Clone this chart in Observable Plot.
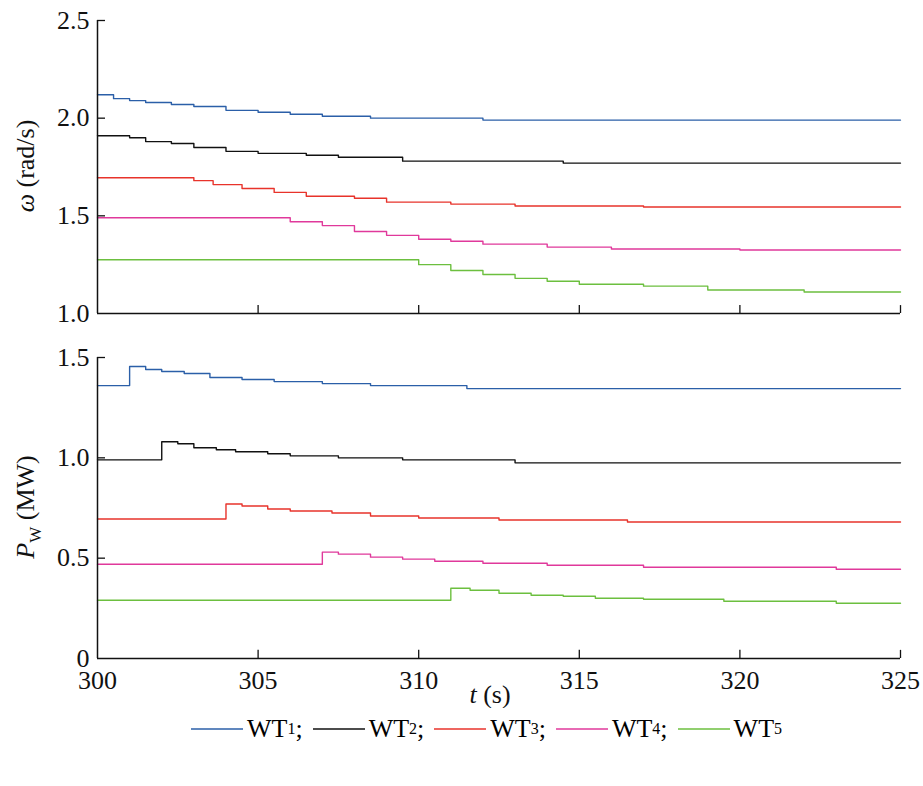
<!DOCTYPE html>
<html><head><meta charset="utf-8">
<script src="https://cdn.jsdelivr.net/npm/d3@7"></script>
<script src="https://cdn.jsdelivr.net/npm/@observablehq/plot@0.6"></script>
<style>
body{margin:0;background:#fff;font-family:"Liberation Serif",serif;}
#wrap{width:923px;position:relative}
svg{display:block}
#legend{display:flex;justify-content:center;align-items:center;font-size:26px;margin-top:6px;padding-left:60px;white-space:nowrap}
#legend span.it{display:inline-flex;align-items:center;margin-right:10px}
#legend sub{font-size:16px;vertical-align:-5px}
</style></head><body><div id="wrap"></div>
<script>
const names = ["WT1","WT2","WT3","WT4","WT5"];
const colors = ["#2b5fa8","#111111","#e8332b","#e0399b","#6cbf3f"];
const xTicks = [300,305,310,315,320,325];
const omegaTicks = [1.0,1.5,2.0,2.5];
const powerTicks = [0,0.5,1.0,1.5];
// omega (rad/s) step breakpoints [t, value]
const omega1 = [[300,2.12],[300.5,2.10],[301,2.09],[301.5,2.08],[302.3,2.07],[303,2.06],[304,2.04],[305,2.03],[306,2.02],[307,2.01],[308.5,2.00],[312,1.99],[325,1.99]];
const omega2 = [[300,1.91],[301,1.90],[301.5,1.88],[302.3,1.87],[303,1.85],[304,1.83],[305,1.82],[306.5,1.81],[307.5,1.80],[309.5,1.78],[314.5,1.77],[325,1.77]];
const omega3 = [[300,1.695],[303,1.68],[303.6,1.66],[304.5,1.64],[305.5,1.62],[306.5,1.60],[308,1.59],[309,1.57],[311,1.56],[313,1.55],[317,1.545],[325,1.545]];
const omega4 = [[300,1.49],[306,1.47],[307,1.45],[308,1.42],[309,1.40],[310,1.38],[311,1.37],[312,1.355],[314,1.34],[316,1.33],[320,1.325],[325,1.325]];
const omega5 = [[300,1.275],[310,1.25],[311,1.22],[312,1.20],[313,1.18],[314,1.165],[315,1.15],[317,1.14],[319,1.12],[322,1.11],[325,1.11]];
// power (MW)
const power1 = [[300,1.36],[301,1.455],[301.5,1.44],[302,1.43],[302.7,1.42],[303.5,1.40],[304.5,1.39],[305.5,1.38],[307,1.37],[308.5,1.36],[311.5,1.345],[325,1.345]];
const power2 = [[300,0.99],[302,1.08],[302.5,1.07],[303,1.05],[303.7,1.04],[304.3,1.03],[305.3,1.02],[306,1.01],[307.5,1.00],[309.5,0.99],[313,0.975],[325,0.975]];
const power3 = [[300,0.695],[304,0.77],[304.5,0.76],[305.3,0.745],[306,0.735],[307.3,0.725],[308.5,0.71],[310,0.70],[312.5,0.69],[316.5,0.68],[325,0.68]];
const power4 = [[300,0.47],[307,0.53],[307.5,0.52],[308.5,0.505],[309.5,0.495],[310.5,0.485],[312,0.475],[314,0.465],[317,0.455],[323,0.445],[325,0.445]];
const power5 = [[300,0.29],[311,0.35],[311.6,0.34],[312.5,0.325],[313.5,0.315],[314.5,0.31],[315.5,0.30],[317,0.295],[319.5,0.285],[323,0.275],[325,0.275]];

const toRows = arrs => arrs.flatMap((a,i)=>a.map(([t,v])=>({t,v,s:names[i]})));
const omegaRows = toRows([omega1,omega2,omega3,omega4,omega5]);
const powerRows = toRows([power1,power2,power3,power4,power5]);
const font = {fontFamily:"Liberation Serif",fontSize:"26px",color:"#111",background:"#fff"};

function panel(rows, yDom, yTicks, opts){
  const [y0,y1] = yDom, dy=(y1-y0)*0.027;
  const marks = [
      Plot.axisY(yTicks,{tickSize:0,tickPadding:8,tickFormat:d=>d===0?"0":d3.format(".1f")(d),label:null}),
      Plot.ruleX(xTicks.slice(1),{x:d=>d,y1:y0,y2:y0+dy,stroke:"#111",strokeWidth:1.3}),
      Plot.ruleY(yTicks.slice(1),{y:d=>d,x1:300,x2:300.25,stroke:"#111",strokeWidth:1.3}),
      Plot.line(rows,{x:"t",y:"v",z:"s",stroke:"s",curve:"step-after",strokeWidth:1.4}),
      Plot.ruleX([300],{y1:y0,y2:y1,stroke:"#111",strokeWidth:1.5}),
      Plot.ruleY([y0],{x1:300,x2:325,stroke:"#111",strokeWidth:1.5})
  ];
  if (opts.xlabels) marks.push(Plot.axisX(xTicks,{tickSize:0,tickPadding:12,tickFormat:d=>String(d),label:null}));
  return Plot.plot({
    width:923, height:opts.height, marginLeft:97, marginRight:23,
    marginTop:opts.mt, marginBottom:opts.mb, style:font,
    x:{domain:[300,325], axis: opts.xlabels ? undefined : null}, y:{domain:yDom},
    color:{domain:names, range:colors},
    marks
  });
}
const wrap = document.getElementById("wrap");
const topSvg = panel(omegaRows,[1,2.5],omegaTicks,{height:330,mt:20,mb:17,xlabels:false});
const botSvg = panel(powerRows,[0,1.5],powerTicks,{height:378,mt:27,mb:50,xlabels:true});
wrap.appendChild(topSvg); wrap.appendChild(botSvg);

function ylab(svg, cy, build){
  const t = d3.select(svg).append("text").attr("transform",`translate(34,${cy}) rotate(-90)`)
    .attr("text-anchor","middle").attr("font-family","Liberation Serif").attr("font-size",26).attr("fill","#111");
  build(t);
}
ylab(topSvg,166,t=>{t.append("tspan").attr("font-style","italic").text("ω");t.append("tspan").text(" (rad/s)");});
ylab(botSvg,177,t=>{t.append("tspan").attr("font-style","italic").text("P");t.append("tspan").attr("font-size",17).attr("dy",7).text("W");t.append("tspan").attr("dy",-7).text(" (MW)");});
const xl = d3.select(botSvg).append("text").attr("x",490).attr("y",373).attr("text-anchor","middle")
  .attr("font-family","Liberation Serif").attr("font-size",26).attr("fill","#111");
xl.append("tspan").attr("font-style","italic").text("t");xl.append("tspan").text(" (s)");

const lg = document.createElement("div"); lg.id="legend";
lg.innerHTML = names.map((n,i)=>`<span class="it"><svg width="52" height="10" style="display:inline-block;margin-right:4px"><line x1="0" x2="52" y1="5" y2="5" stroke="${colors[i]}" stroke-width="1.6"/></svg>WT<sub>${i+1}</sub>${i<4?";":""}</span>`).join("");
wrap.appendChild(lg);
</script></body></html>
